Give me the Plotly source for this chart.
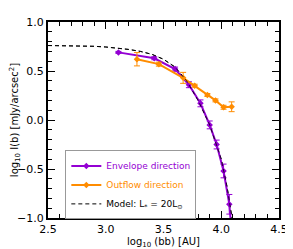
import plotly.graph_objects as go

# Envelope direction (purple)
env_x = [3.11, 3.42, 3.60, 3.72, 3.82, 3.90, 3.96, 4.02, 4.07, 4.09]
env_y = [0.69, 0.63, 0.52, 0.36, 0.17, -0.05, -0.25, -0.52, -0.86, -1.15]
env_err = [0.01, 0.015, 0.02, 0.03, 0.035, 0.04, 0.045, 0.07, 0.10, 0.12]

# Outflow direction (orange)
out_x = [3.27, 3.46, 3.67, 3.77, 3.88, 3.95, 4.02, 4.09]
out_y = [0.62, 0.57, 0.43, 0.35, 0.255, 0.20, 0.13, 0.135]
out_err = [0.068, 0.02, 0.056, 0.015, 0.015, 0.015, 0.02, 0.05]

# Model curve
mod_x = [2.5, 2.7, 2.9, 3.0, 3.1, 3.2, 3.3, 3.4, 3.5, 3.6, 3.7, 3.8, 3.9, 4.0, 4.05, 4.1]
mod_y = [0.76, 0.758, 0.752, 0.745, 0.735, 0.72, 0.70, 0.67, 0.62, 0.54, 0.40, 0.20, -0.05, -0.40, -0.68, -1.05]

PURPLE = "#9400D3"
ORANGE = "#FF8C00"
FONT = "DejaVu Sans"

fig = go.Figure()

fig.add_trace(go.Scatter(
    x=mod_x, y=mod_y, mode="lines",
    line=dict(color="black", width=1, dash="4px,3px"),
    name="Model: L<sub>*</sub> = 20L<sub>⊙</sub>", legendrank=3,
))
fig.add_trace(go.Scatter(
    x=env_x, y=env_y, mode="lines+markers",
    line=dict(color=PURPLE, width=2),
    marker=dict(symbol="diamond", size=5, color=PURPLE),
    error_y=dict(type="data", array=env_err, color=PURPLE, thickness=1, width=3),
    name=f"<span style='color:{PURPLE}'>Envelope direction</span>", legendrank=1,
))
fig.add_trace(go.Scatter(
    x=out_x, y=out_y, mode="lines+markers",
    line=dict(color=ORANGE, width=2),
    marker=dict(symbol="diamond", size=5, color=ORANGE),
    error_y=dict(type="data", array=out_err, color=ORANGE, thickness=1, width=3),
    name=f"<span style='color:{ORANGE}'>Outflow direction</span>", legendrank=2,
))
# thin model line redrawn on top, as in the reference
fig.add_trace(go.Scatter(
    x=mod_x, y=mod_y, mode="lines",
    line=dict(color="black", width=0.8, dash="4px,3px"),
    showlegend=False, hoverinfo="skip",
))

axis_common = dict(
    showgrid=False, zeroline=False, automargin=False,
    showline=True, linecolor="black", linewidth=2, mirror="allticks",
    ticks="inside", ticklen=7, tickwidth=1.2, tickcolor="black",
    tickfont=dict(family=FONT, size=11, color="black"),
)

# page body has an 8px margin, so the figure is sized/offset to compensate
fig.update_layout(
    width=285, height=241,
    margin=dict(l=40, r=14, t=14, b=31),
    paper_bgcolor="white", plot_bgcolor="white",
    font=dict(family=FONT, size=10, color="black"),
    showlegend=True,
    legend=dict(
        x=0.075, y=0.345, xanchor="left", yanchor="top",
        bgcolor="white", bordercolor="#999999", borderwidth=1,
        font=dict(family=FONT, size=9, color="black"),
        itemwidth=30, tracegroupgap=0,
    ),
    xaxis=dict(
        range=[2.5, 4.5], tickvals=[2.5, 3.0, 3.5, 4.0, 4.5],
        ticktext=["2.5", "3.0", "3.5", "4.0", "4.5"],
        minor=dict(dtick=0.1, tick0=2.5, ticks="inside", ticklen=4, tickwidth=1, tickcolor="black"),
        title=dict(text="log<sub>10</sub> (bb) [AU]", font=dict(family=FONT, size=10), standoff=0),
        **axis_common,
    ),
    yaxis=dict(
        range=[-1.0, 1.0], tickvals=[-1.0, -0.5, 0.0, 0.5, 1.0],
        ticktext=["\u22121.0", "\u22120.5", "0.0", "0.5", "1.0"],
        minor=dict(dtick=0.1, tick0=0, ticks="inside", ticklen=4, tickwidth=1, tickcolor="black"),
        title=dict(text="log<sub>10</sub> I(b) [mJy/arcsec<sup>2</sup>]", font=dict(family=FONT, size=10), standoff=0),
        **axis_common,
    ),
)

fig.write_html("out.html")
